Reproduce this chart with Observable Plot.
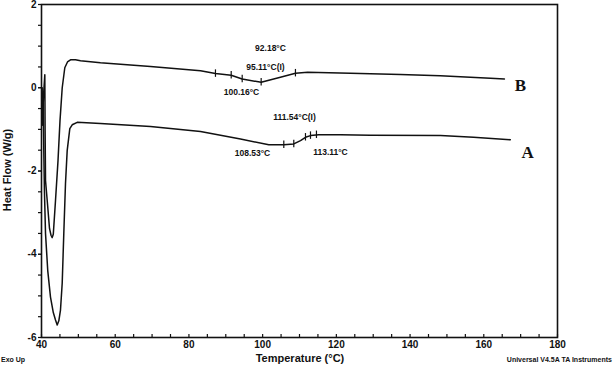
<!DOCTYPE html>
<html>
<head>
<meta charset="utf-8">
<script src="https://cdn.jsdelivr.net/npm/d3@7"></script>
<script src="https://cdn.jsdelivr.net/npm/@observablehq/plot@0.6"></script>
<style>
  html, body { margin: 0; padding: 0; background: #fff; }
  #wrap { position: relative; width: 614px; height: 369px; font-family: "Liberation Sans", Arial, sans-serif; }
</style>
</head>
<body>
<div id="wrap"></div>
<script>
// Curve B (upper)
const tempB = [40.14, 40.35, 40.54, 40.9, 40.98, 41.09, 41.55, 42.17, 42.6, 42.9, 43.2, 43.8, 44.48, 45.02, 45.62, 46.32, 47.05, 47.87, 49.22, 50.58, 56.0, 69.57, 83.14, 87.2, 91.47, 94.45, 99.6, 104.3, 108.9, 112.2, 123.8, 137.4, 148.2, 161.8, 165.6];
const heatB = [0, -0.67, -0.19, 0.31, -1.03, -2.23, -2.71, -3.38, -3.55, -3.6, -3.52, -2.71, -1.75, -0.79, 0, 0.48, 0.62, 0.67, 0.67, 0.65, 0.60, 0.51, 0.41, 0.34, 0.30, 0.21, 0.13, 0.24, 0.35, 0.37, 0.35, 0.32, 0.29, 0.23, 0.21];
// Curve A (lower)
const tempA = [40.1, 40.3, 40.45, 40.62, 40.8, 41.09, 41.7, 42.44, 43.2, 43.8, 44.26, 44.7, 45.15, 45.62, 46.05, 46.51, 46.97, 47.68, 48.33, 49.69, 56.0, 69.57, 83.14, 93.99, 101.67, 105.74, 108.45, 110.27, 111.62, 112.98, 115.23, 121.12, 129.26, 148.25, 157.2, 167.2];
const heatA = [0, -0.9, -0.25, -1.51, -2.5, -3.5, -4.4, -5.03, -5.4, -5.58, -5.7, -5.6, -5.34, -4.69, -3.5, -2.3, -1.51, -0.98, -0.89, -0.83, -0.86, -0.93, -1.05, -1.23, -1.37, -1.37, -1.35, -1.27, -1.19, -1.15, -1.13, -1.13, -1.14, -1.15, -1.19, -1.25];
// Analysis markers
const markTempB = [87.2, 91.47, 94.45, 99.6, 108.9];
const markHeatB = [0.34, 0.30, 0.21, 0.13, 0.35];
const markTempA = [105.74, 108.45, 111.62, 112.98, 114.6];
const markHeatA = [-1.37, -1.35, -1.19, -1.15, -1.13];
// Annotations
const noteLabels = ["92.18°C", "95.11°C(I)", "100.16°C", "111.54°C(I)", "108.53°C", "113.11°C"];
const noteTemp = [102.13, 100.77, 94.26, 108.64, 97.24, 118.4];
const noteHeat = [0.95, 0.50, -0.10, -0.72, -1.58, -1.56];
const seriesLabels = ["B", "A"];
const seriesTemp = [169.95, 171.93];
const seriesHeat = [0.05, -1.55];
// Axis ticks
const xTickLabels = [40, 60, 80, 100, 120, 140, 160, 180];
const yTickLabels = [-6, -4, -2, 0, 2];

const curveB = tempB.map((t, i) => ({T: t, V: heatB[i]}));
const curveA = tempA.map((t, i) => ({T: t, V: heatA[i]}));
const marks = markTempB.map((t, i) => ({T: t, V: markHeatB[i]}))
  .concat(markTempA.map((t, i) => ({T: t, V: markHeatA[i]})));
const notes = noteLabels.map((l, i) => ({label: l, T: noteTemp[i], V: noteHeat[i]}));
const sLabels = seriesLabels.map((l, i) => ({label: l, T: seriesTemp[i], V: seriesHeat[i]}));

const chart = Plot.plot({
  width: 614,
  height: 369,
  marginLeft: 41,
  marginRight: 57,
  marginTop: 4,
  marginBottom: 32,
  style: {fontFamily: "Liberation Sans, Arial, sans-serif", background: "white", color: "#111"},
  x: {domain: [40, 180], label: null},
  y: {domain: [-6, 2], label: null},
  marks: [
    Plot.frame({stroke: "#111", strokeWidth: 1.6}),
    Plot.axisX(d3.range(40, 181, 5), {tickSize: -3, text: null, label: null, strokeWidth: 1.2}),
    Plot.axisX(xTickLabels, {tickSize: 0, tickPadding: 3, fontSize: 10, fontWeight: "bold", label: null, tickFormat: d => String(d)}),
    Plot.axisY(d3.range(-6, 2.01, 0.5), {tickSize: 3, text: null, label: null, strokeWidth: 1.2}),
    Plot.axisY(yTickLabels, {tickSize: 3, tickPadding: 2, fontSize: 10, fontWeight: "bold", label: null, tickFormat: d => String(d)}),
    Plot.line(curveB, {x: "T", y: "V", stroke: "#111", strokeWidth: 1.5}),
    Plot.line(curveA, {x: "T", y: "V", stroke: "#111", strokeWidth: 1.5}),
    Plot.ruleX(marks, {x: "T", y1: d => d.V - 0.09, y2: d => d.V + 0.09, stroke: "#111", strokeWidth: 1.2}),
    Plot.text(notes, {x: "T", y: "V", text: "label", fontSize: 8.5, fontWeight: "bold", fill: "#111"}),
    Plot.text(sLabels, {x: "T", y: "V", text: "label", fontSize: 17, fontWeight: "bold", fontFamily: "Liberation Serif, Times New Roman, serif", fill: "#111"})
  ]
});
const wrap = document.getElementById("wrap");
wrap.appendChild(chart);

// Axis titles and instrument notes as SVG text
const svg = d3.select(chart);
svg.append("text").attr("x", 300).attr("y", 362).attr("text-anchor", "middle")
  .attr("font-size", 11).attr("font-weight", "bold").attr("fill", "#111").text("Temperature (°C)");
svg.append("text").attr("transform", "translate(11,170) rotate(-90)").attr("text-anchor", "middle")
  .attr("font-size", 11).attr("font-weight", "bold").attr("fill", "#111").text("Heat Flow (W/g)");
svg.append("text").attr("x", 1).attr("y", 362).attr("text-anchor", "start").attr("font-size", 7).attr("font-weight", "bold").attr("fill", "#111").text("Exo Up");
svg.append("text").attr("x", 612).attr("y", 362).attr("text-anchor", "end").attr("font-size", 7).attr("font-weight", "bold").attr("fill", "#111").text("Universal V4.5A TA Instruments");
</script>
</body>
</html>
